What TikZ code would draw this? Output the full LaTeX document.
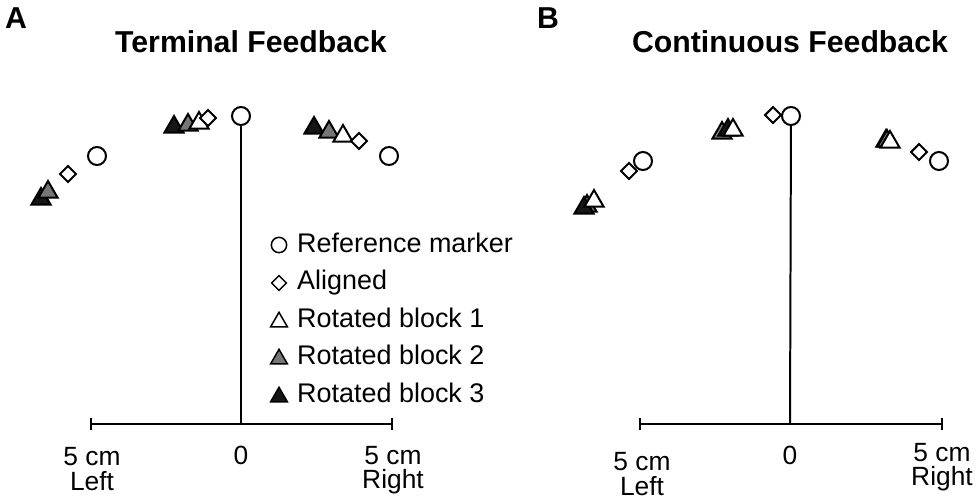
\documentclass[tikz,border=0pt]{standalone}
\usepackage{fontspec}
\setmainfont{Liberation Sans}
\usetikzlibrary{arrows.meta,shapes.geometric}
\definecolor{midgray}{HTML}{777777}
\definecolor{nearblack}{HTML}{161616}
\tikzset{
  mk/.style={draw=black,line width=1.7pt,inner sep=0pt},
  refm/.style={mk,circle,fill=white,minimum size=0.54cm},
  alm/.style={mk,diamond,fill=white,minimum size=0.5cm},
  rot/.style={mk,regular polygon,regular polygon sides=3,minimum size=0.66cm},
  rotone/.style={rot,fill=white},
  rottwo/.style={rot,fill=midgray},
  rotthree/.style={rot,fill=nearblack},
  keysym/.style={line width=1.3pt,minimum size=0.46cm},
  keytxt/.style={anchor=base west,inner sep=0pt,font=\fontsize{23}{27}\selectfont},
  ticklab/.style={align=center,inner sep=0pt,font=\fontsize{22.5}{21}\selectfont},
  ttl/.style={anchor=base,inner sep=0pt,font=\fontsize{25.8}{30}\selectfont\bfseries}
}

\begin{document}
\begin{tikzpicture}[x=0.03cm,y=-0.03cm]
\useasboundingbox (0,0) rectangle (978,499);

% panel A
\node[ttl] (panelA) at (16,28) {A};
\node[ttl] (titleA) at (251,52) {Terminal Feedback};
\coordinate (zeroA) at (241,424);
\coordinate (leftA) at (90,424);
\coordinate (rightA) at (393,424);
\draw[line width=1.7pt,{Bar[width=0.36cm]}-{Bar[width=0.36cm]}] (leftA) -- (rightA);
\node[ticklab] (labLA) at (92,469) {5 cm\\Left};
\node[ticklab] (labZA) at (241,455) {0};
\node[ticklab] (labRA) at (393,470) {5 cm\\Right};
\node[refm] (refA0) at (241,116) {};
\draw[line width=1.7pt] (refA0) -- (zeroA);
% left target
\node[rotthree] (rcA1) at (41,199) {};
\node[rottwo] (rbA1) at (48,192) {};
\node[alm] (alA1) at (68,174) {};
\node[refm] (refA1) at (97,156) {};
% middle target
\node[rotthree] (rcA0) at (174,127) {};
\node[rottwo] (rbA0) at (188,125) {};
\node[rotone] (raA0) at (199,123) {};
\node[alm] (alA0) at (208,118) {};
% right target
\node[rotthree] (rcA2) at (314,128) {};
\node[rottwo] (rbA2) at (329,132) {};
\node[rotone] (raA2) at (343,136) {};
\node[alm] (alA2) at (359,141) {};
\node[refm] (refA2) at (389,156) {};
% key
\node[refm,keysym] (keyref) at (279,245) {};
\node[alm,keysym] (keyal) at (279,283) {};
\node[rotone,keysym,minimum size=0.58cm] (keyone) at (279,322) {};
\node[rottwo,keysym,minimum size=0.58cm] (keytwo) at (279,359) {};
\node[rotthree,keysym,minimum size=0.58cm] (keythree) at (279,397) {};
\node[keytxt] (txtref) at (297,252) {Reference marker};
\node[keytxt] (txtal) at (297,289.5) {Aligned};
\node[keytxt] (txtone) at (297,327) {Rotated block 1};
\node[keytxt] (txttwo) at (297,364.5) {Rotated block 2};
\node[keytxt] (txtthree) at (297,402) {Rotated block 3};

% panel B
\node[ttl] (panelB) at (548,28) {B};
\node[ttl] (titleB) at (790,52) {Continuous Feedback};
\coordinate (zeroB) at (790,424);
\coordinate (leftB) at (639,424);
\coordinate (rightB) at (943,424);
\draw[line width=1.7pt,{Bar[width=0.36cm]}-{Bar[width=0.36cm]}] (leftB) -- (rightB);
\node[ticklab] (labLB) at (642,474) {5 cm\\Left};
\node[ticklab] (labZB) at (790,455) {0};
\node[ticklab] (labRB) at (942,467) {5 cm\\Right};
% left target
\node[rottwo] (rbB1) at (587,206) {};
\node[rotthree] (rcB1) at (584,208) {};
\node[rotone] (raB1) at (594,201) {};
\node[alm] (alB1) at (629,171) {};
\node[refm] (refB1) at (643,161) {};
% middle target
\node[rottwo] (rbB0) at (722,133) {};
\node[rotthree] (rcB0) at (728,130) {};
\node[rotone] (raB0) at (733,130) {};
\node[alm] (alB0) at (773,115) {};
\node[refm] (refB0) at (791,116) {};
\draw[line width=1.7pt] (refB0) -- (zeroB);
% right target
\node[rotthree] (rcB2) at (886,141) {};
\node[rottwo] (rbB2) at (887,141) {};
\node[rotone] (raB2) at (890,142) {};
\node[alm] (alB2) at (919,152) {};
\node[refm] (refB2) at (939,161) {};
\end{tikzpicture}
\end{document}
